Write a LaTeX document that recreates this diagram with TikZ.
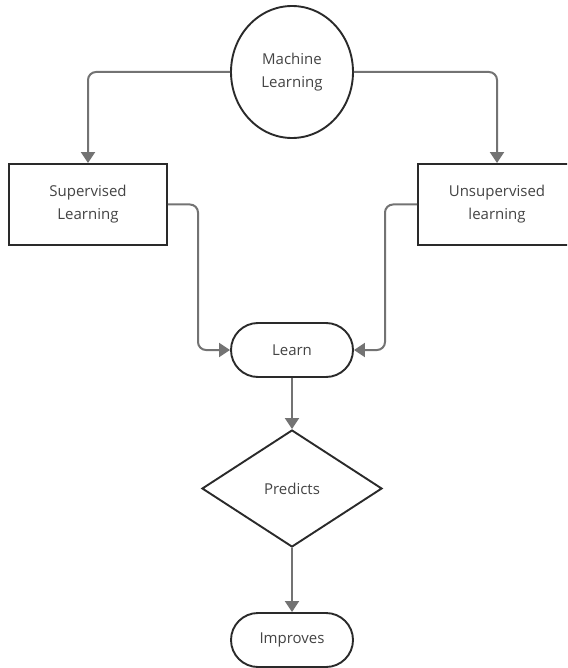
\documentclass[tikz,border=0pt]{standalone}
\usepackage{fontspec}
\setmainfont{Open Sans}
\usetikzlibrary{arrows.meta,shapes.geometric}
\definecolor{conncol}{HTML}{737373}
\definecolor{bordercol}{HTML}{2A2A2A}
\definecolor{txtcol}{HTML}{444444}
\tikzset{
  base/.style={draw=bordercol, line width=1.9pt, fill=white, text=txtcol, font=\fontsize{15}{23}\selectfont, align=center, inner sep=0pt},
  ellnode/.style={base, ellipse, minimum width=122pt, minimum height=132pt},
  boxnode/.style={base, rectangle, minimum width=158pt, minimum height=81pt},
  pillnode/.style={base, rectangle, rounded corners=27pt, minimum width=122pt, minimum height=54pt},
  dianode/.style={base, diamond, minimum width=180pt, minimum height=117pt},
  conn/.style={draw=conncol, line width=2pt, rounded corners=8pt, -{Triangle[width=14pt,length=11pt]}, color=conncol}
}
\begin{document}
\begin{tikzpicture}[x=1pt,y=-1pt]
\useasboundingbox (0,0) rectangle (567,668);
\clip (0,0) rectangle (567,668);
\node[ellnode] (ml) at (292,72) {Machine\\Learning};
\node[boxnode] (sup) at (88,204.5) {Supervised\\Learning};
\node[boxnode] (uns) at (497,204.5) {Unsupervised\\learning};
\node[pillnode] (learn) at (292,350) {Learn};
\node[dianode] (pred) at (292,488.5) {Predicts};
\node[pillnode] (imp) at (292,640) {Improves};
\coordinate (jl) at (198,0);
\coordinate (jr) at (385,0);
\draw[conn] (ml.west) -| (sup.north);
\draw[conn] (ml.east) -| (uns.north);
\draw[conn] (sup.east) -| (jl |- learn.west) -- (learn.west);
\draw[conn] (uns.west) -| (jr |- learn.east) -- (learn.east);
\draw[conn] (learn.south) -- (pred.north);
\draw[conn] (pred.south) -- (imp.north);
\end{tikzpicture}
\end{document}
